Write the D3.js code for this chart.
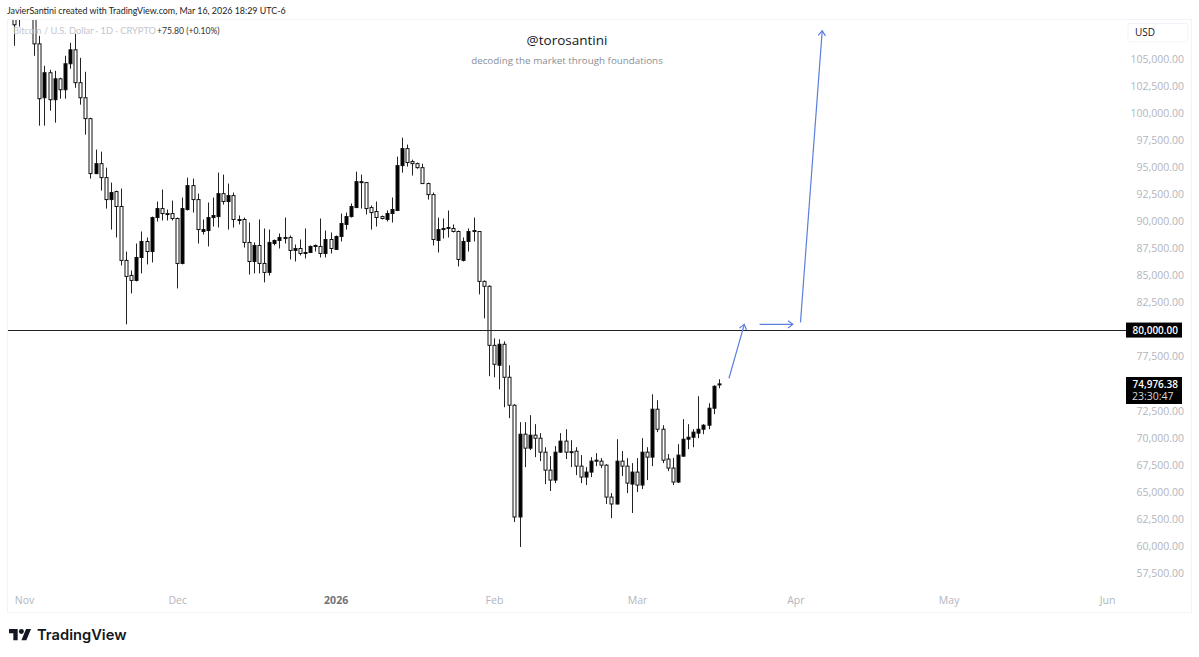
<!DOCTYPE html>
<html>
<head>
<meta charset="utf-8">
<script src="https://cdn.jsdelivr.net/npm/d3@7"></script>
<style>
  html, body { margin: 0; padding: 0; background: #fff; }
  svg { display: block; font-family: "Open Sans", sans-serif; }
</style>
</head>
<body>
<div id="chart"></div>
<script>
var width = 1199, height = 657;

// DATA - one entry per day starting at firstDay
var firstDay = "2025-10-30";
var opens = [110000,109900,109600,110100,110600,106400,101420,103730,101240,103170,102160,104560,105850,102810,101420,99490,94410,95330,94040,92010,92750,91370,86390,85000,84540,86660,88140,87210,90350,91180,90720,
  90720,90260,86110,91090,93300,92010,89060,89150,90350,90440,92560,91830,92380,90170,90170,88050,86290,87770,86110,85280,87950,88230,88510,88510,87310,87490,87030,87120,87680,87680,87030,88320,
  87400,88600,89710,90440,91270,93670,93580,91270,90910,90440,90170,90720,91000,95150,96720,95520,95330,94960,93490,92470,88230,89340,89340,89340,89060,86390,88140,89150,89060,84450,84000,
  78540,76700,78640,75590,73010,62680,70330,69040,70240,69960,68670,67010,66090,68670,69690,68720,68760,67380,66370,66830,67840,67840,67470,64520,63880,67840,67380,65720,
  66830,65630,68670,68210,72640,70790,68030,67200,65910,68300,69870,70050,70430,70790,71160,72730,74900.58];
var highs = [111500,111000,110500,111200,110800,107140,104370,104000,103910,103270,105300,106500,107330,105110,103820,99580,96630,96440,94960,93580,92840,93030,87210,85460,87950,89060,88510,90440,91830,92940,91090,
  91920,90350,92200,94040,93950,92560,90170,91740,92200,94500,94320,93490,92660,90540,90350,89890,88050,90170,89340,89240,88320,88880,90350,88690,87860,88320,89340,87770,87860,90260,89150,88970,
  88690,90720,90810,91650,94590,94320,93630,91460,91830,90540,91000,92200,95980,97730,97090,95700,95430,95330,93580,92660,90350,90260,91000,89710,89150,88510,89340,90350,89100,84540,84080,
  79190,79100,78910,76700,73100,71440,71440,72090,71260,70430,69130,68300,69230,70430,70790,69780,69130,68400,67290,68210,68580,68120,67560,64890,69870,68770,68120,67660,
  68120,69960,69130,74020,73470,71160,68490,68120,69410,71720,71260,70790,73840,71260,73190,74850,75410];
var lows = [106220,108000,109400,109700,105300,98840,98840,100220,99120,101330,101330,104100,102340,100780,98010,93950,94360,92840,91180,89240,88510,85920,80480,83340,84450,85190,86020,86200,89980,90080,90080,
  90080,83800,86020,91000,90810,87950,88780,87680,89520,89430,91550,89240,89430,89710,87580,85090,85190,85190,84360,85000,87770,87490,87950,86480,86290,86850,86570,87080,87210,86660,86660,87030,
  87350,88140,89240,90350,91230,91180,90630,89240,89520,90170,89980,89890,90950,94500,95060,94230,94870,93440,92010,87770,87120,88410,88510,88970,85830,86290,87210,88140,83250,81040,75690,
  75590,74480,72820,71810,62220,59910,67290,68860,68210,67840,65720,65080,65810,68630,68030,67290,66550,65810,65630,66370,67380,67200,63880,62580,63830,66460,64890,63050,
  64980,65260,66090,67380,70520,67660,66920,65630,65810,68250,68950,69130,69960,70330,70790,72180,74580];
var closes = [108160,109600,110100,110600,106400,101330,103730,101240,103170,102160,104560,105850,102810,101420,99490,94410,95330,94040,92010,92660,91370,86390,84910,84540,86660,88140,87210,90350,91180,90720,90630,
  90260,86110,91180,93300,92010,89240,89240,90350,90540,92560,91830,92380,90170,90080,88050,86290,87770,86110,85280,88050,88230,88510,88410,87310,87490,87030,87120,87680,87770,87030,88320,87490,
  88600,89800,90440,91370,93670,93580,91180,90810,90350,90260,90720,91090,95150,96720,95430,95330,94960,93490,92470,88320,89240,89240,89430,89060,86480,88140,89060,89060,84450,84000,78540,
  76790,78640,75590,73010,62680,70330,69040,70240,69960,68670,67010,66090,68670,69690,68670,68670,67380,66370,66830,67840,67930,67470,64520,63880,67840,67380,65810,66830,
  65630,68670,68210,72640,70790,67930,67200,65910,68400,69870,70050,70520,70790,71160,72730,74760,74976.38];

var priceTicks = [105000,102500,100000,97500,95000,92500,90000,87500,85000,82500,77500,72500,70000,67500,65000,62500,60000,57500];
var monthDays = ["2025-11-01","2025-12-01","2026-01-01","2026-02-01","2026-03-01","2026-04-01","2026-05-01","2026-06-01"];
var monthLabels = ["Nov","Dec","2026","Feb","Mar","Apr","May","Jun"];

var levelPrice = 80000;
var lastPrice = 74976.38;
var countdown = "23:30:47";

// hand drawn arrows, [time, price] for start and end
var arrowTimes = [
  ["2026-03-19T00:00:00Z","2026-03-22T00:00:00Z"],
  ["2026-03-25T00:00:00Z","2026-03-31T12:00:00Z"],
  ["2026-04-02T00:00:00Z","2026-04-06T06:00:00Z"]
];
var arrowPrices = [[75500,80480],[80480,80480],[80660,107600]];

// LAYOUT
var plotLeft = 8, plotRight = 1126, plotTop = 20, plotBottom = 589;

var x = d3.scaleUtc()
  .domain([new Date("2025-11-01T00:00:00Z"), new Date("2026-06-01T00:00:00Z")])
  .range([24, 1107]);
var y = d3.scaleLinear().domain([60000, 105000]).range([546, 59]);

var svg = d3.select("#chart").append("svg").attr("width", width).attr("height", height);

svg.append("defs").append("clipPath").attr("id", "plotClip").append("rect")
  .attr("x", plotLeft).attr("y", plotTop)
  .attr("width", plotRight - plotLeft).attr("height", plotBottom - plotTop);

// FRAME
svg.append("rect").attr("x", 7.5).attr("y", 19.5).attr("width", 1184).attr("height", 593)
  .attr("fill", "none").attr("stroke", "#f0f3fa");

// CANDLES
var start = d3.utcParse("%Y-%m-%d")(firstDay);
var days = opens.map(function(d, i) { return d3.utcDay.offset(start, i); });
var plot = svg.append("g").attr("clip-path", "url(#plotClip)");

var candles = plot.selectAll("g.candle").data(days).enter().append("g").attr("class", "candle");
candles.append("line")
  .attr("x1", function(d) { return Math.round(x(d)) + 0.5; })
  .attr("x2", function(d) { return Math.round(x(d)) + 0.5; })
  .attr("y1", function(d, i) { return y(highs[i]); })
  .attr("y2", function(d, i) { return y(lows[i]); })
  .attr("stroke", "#222");
candles.append("rect")
  .attr("x", function(d) { return Math.round(x(d)) - 1; })
  .attr("width", 3)
  .attr("y", function(d, i) { return y(Math.max(opens[i], closes[i])); })
  .attr("height", function(d, i) { return Math.max(1, Math.abs(y(opens[i]) - y(closes[i]))); })
  .attr("fill", function(d, i) { return closes[i] > opens[i] ? "#000" : "#fff"; })
  .attr("stroke", "#111");

// LEVEL LINE
svg.append("line").attr("x1", plotLeft).attr("x2", plotRight)
  .attr("y1", Math.round(y(levelPrice)) + 0.5).attr("y2", Math.round(y(levelPrice)) + 0.5)
  .attr("stroke", "#222");

// ARROWS
var arrowColor = "#5b7fdc";
arrowTimes.forEach(function(t, i) {
  var x1 = x(new Date(t[0])), x2 = x(new Date(t[1]));
  var y1 = y(arrowPrices[i][0]), y2 = y(arrowPrices[i][1]);
  var a = Math.atan2(y2 - y1, x2 - x1), head = 6;
  svg.append("line").attr("x1", x1).attr("y1", y1).attr("x2", x2).attr("y2", y2)
    .attr("stroke", arrowColor).attr("stroke-width", 1.2);
  svg.append("path")
    .attr("d", d3.line()([
      [x2 - head * Math.cos(a - 0.65), y2 - head * Math.sin(a - 0.65)],
      [x2, y2],
      [x2 - head * Math.cos(a + 0.65), y2 - head * Math.sin(a + 0.65)]
    ]))
    .attr("fill", "none").attr("stroke", arrowColor).attr("stroke-width", 1.2);
});

// AXES
var priceAxis = svg.append("g").attr("transform", "translate(1184,0)")
  .call(d3.axisLeft(y).tickValues(priceTicks).tickFormat(d3.format(",.2f")).tickSize(0).tickPadding(0));
priceAxis.select(".domain").remove();
priceAxis.selectAll("text").attr("font-family", "'Open Sans', sans-serif").attr("font-size", 10.5).attr("fill", "#b2b5be");

var parseDay = d3.utcParse("%Y-%m-%d");
var timeAxis = svg.append("g").attr("transform", "translate(0,597)")
  .call(d3.axisBottom(x).tickValues(monthDays.map(function(d) { return parseDay(d); }))
    .tickFormat(function(d, i) { return monthLabels[i]; }).tickSize(0).tickPadding(0));
timeAxis.select(".domain").remove();
timeAxis.selectAll("text").attr("font-family", "'Open Sans', sans-serif").attr("font-size", 10.5)
  .attr("fill", function(d, i) { return monthLabels[i] === "2026" ? "#70737e" : "#b2b5be"; })
  .attr("font-weight", function(d, i) { return monthLabels[i] === "2026" ? 700 : 400; });

// PRICE LABELS
svg.append("rect").attr("x", 1126).attr("y", y(levelPrice) - 7).attr("width", 56).attr("height", 15).attr("fill", "#000");
svg.append("text").attr("x", 1178).attr("y", y(levelPrice) + 4).attr("text-anchor", "end")
  .attr("font-size", 10).attr("font-weight", 600).attr("fill", "#fff").text(d3.format(",.2f")(levelPrice));

svg.append("rect").attr("x", 1126).attr("y", 377).attr("width", 56).attr("height", 27).attr("fill", "#000");
svg.append("text").attr("x", 1178).attr("y", 388).attr("text-anchor", "end")
  .attr("font-size", 10).attr("font-weight", 600).attr("fill", "#fff").text(d3.format(",.2f")(lastPrice));
svg.append("text").attr("x", 1132).attr("y", 400)
  .attr("font-size", 10.5).attr("fill", "#d8d8d8").text(countdown);

// USD BUTTON
svg.append("rect").attr("x", 1128).attr("y", 23.5).attr("width", 60).attr("height", 18.5).attr("rx", 2)
  .attr("fill", "#fff").attr("stroke", "#f0f3fa");
svg.append("text").attr("x", 1135).attr("y", 36).attr("font-size", 10).attr("fill", "#131722").text("USD");

// HEADER TEXT
svg.append("text").attr("x", 7).attr("y", 14).attr("font-family", "Lato, sans-serif").attr("font-size", 8.9).attr("fill", "#222")
  .text("JavierSantini created with TradingView.com, Mar 16, 2026 18:29 UTC-6");
svg.append("text").attr("x", 13).attr("y", 34).attr("font-family", "Lato, sans-serif").attr("font-size", 9.3).attr("fill", "#c3c6ce")
  .text("Bitcoin / U.S. Dollar \u00b7 1D \u00b7 CRYPTO");
svg.append("text").attr("x", 157).attr("y", 34).attr("font-family", "Lato, sans-serif").attr("font-size", 8.6).attr("fill", "#333")
  .text("+75.80 (+0.10%)");

// WATERMARK
svg.append("text").attr("x", 567).attr("y", 45).attr("text-anchor", "middle")
  .attr("font-size", 13.5).attr("fill", "#131722").text("@torosantini");
svg.append("text").attr("x", 567).attr("y", 64).attr("text-anchor", "middle")
  .attr("font-size", 9.8).attr("fill", "#8a8d96").text("decoding the market through foundations");

// TRADINGVIEW LOGO
var logo = svg.append("g").attr("transform", "translate(9,626.5) scale(0.62)");
logo.append("path").attr("d", "M14 22H7V11H0V4h14v18zM28 22h-8l7.5-18h8L28 22z").attr("fill", "#131722");
logo.append("circle").attr("cx", 20).attr("cy", 8).attr("r", 4).attr("fill", "#131722");
svg.append("text").attr("x", 37).attr("y", 640).attr("font-family", "Inter, sans-serif")
  .attr("font-size", 14.7).attr("font-weight", 600).attr("fill", "#131722").text("TradingView");
</script>
</body>
</html>
